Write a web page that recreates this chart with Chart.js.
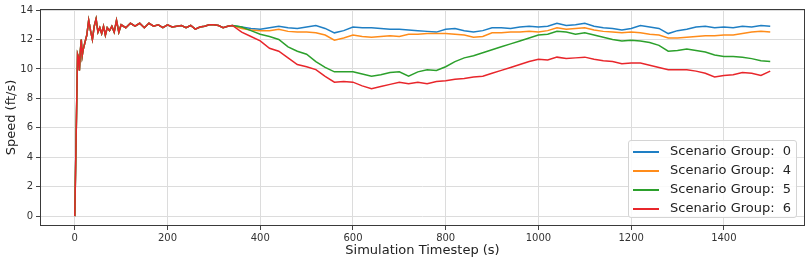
<!DOCTYPE html>
<html lang="en">
<head>
  <meta charset="UTF-8" />
  <title>Speed by scenario group</title>
  <script src="https://cdn.jsdelivr.net/npm/chart.js"></script>
  <style>
    body {
      margin: 0;
      background: #ffffff;
      font-family: "DejaVu Sans", sans-serif;
    }
    .wrap {
      position: relative;
      width: 809px;
      height: 263px;
    }
    #legend {
      position: absolute;
      left: 628px;
      top: 140px;
      width: 167px;
      height: 76px;
      background: rgba(255, 255, 255, 0.85);
      border: 1px solid #d4d4d4;
      border-radius: 3px;
      font-size: 13px;
      color: #222;
    }
    .row {
      position: absolute;
      left: 4px;
      height: 18px;
      line-height: 18px;
      white-space: pre;
    }
    .swatch {
      display: inline-block;
      width: 26px;
      height: 2px;
      vertical-align: middle;
      margin-right: 11px;
    }
  </style>
</head>
<body>
<div class="wrap">
  <canvas id="chart" width="809" height="263"></canvas>
  <div id="legend"></div>
</div>

<script>
  // Data
  const groups = ['0', '4', '5', '6'];
  const colors = ['#1f7fc4', '#ff8c1a', '#2ca02c', '#e8262b'];

  // shared part: all groups run together up to ~340 s
  const warmupSteps = [0, 3, 6, 8, 10, 12, 14, 16, 18, 22, 26, 30, 34, 38, 42, 46, 50, 54, 58, 62,
    66, 70, 75, 80, 85, 90, 95, 100, 110, 120, 130, 140, 150, 160, 170, 180, 190, 200, 210, 220,
    230, 240, 250, 260, 270, 280, 290, 300, 310, 320, 330, 340];
  const warmupSpeed = [0, 5.5, 11.0, 10.8, 9.9, 11.2, 12.0, 10.9, 11.3, 11.8, 12.3, 13.3, 12.6, 12.0,
    12.9, 13.4, 12.5, 12.8, 12.4, 12.9, 12.3, 12.8, 12.6, 12.9, 12.5, 13.3, 12.5, 13.0, 12.8, 13.1,
    12.9, 13.1, 12.8, 13.1, 12.9, 13.0, 12.8, 13.0, 12.85, 12.9, 12.95, 12.8, 12.95, 12.7, 12.85,
    12.9, 13.0, 13.0, 12.95, 12.8, 12.9, 12.95];

  const steps = [360, 380, 400, 420, 440, 460, 480, 500, 520, 540, 560, 580, 600, 620, 640, 660,
    680, 700, 720, 740, 760, 780, 800, 820, 840, 860, 880, 900, 920, 940, 960, 980, 1000, 1020,
    1040, 1060, 1080, 1100, 1120, 1140, 1160, 1180, 1200, 1220, 1240, 1260, 1280, 1300, 1320,
    1340, 1360, 1380, 1400, 1420, 1440, 1460, 1480, 1500];

  const speed0 = [12.85, 12.75, 12.7, 12.8, 12.9, 12.8, 12.75, 12.85,
    12.95, 12.75, 12.45, 12.6, 12.85, 12.8, 12.8, 12.75, 12.7, 12.7, 12.65, 12.6, 12.55, 12.5,
    12.7, 12.75, 12.6, 12.5, 12.6, 12.8, 12.8, 12.75, 12.85, 12.9, 12.85,
    12.9, 13.1, 12.95, 13.0, 13.1, 12.9, 12.8, 12.75, 12.65, 12.75, 12.95, 12.85, 12.75, 12.4,
    12.6, 12.7, 12.85, 12.9, 12.8, 12.85, 12.8, 12.9, 12.85, 12.95, 12.9];
  const speed4 = [12.75, 12.65, 12.6, 12.6, 12.7, 12.55, 12.5, 12.5,
    12.45, 12.3, 11.95, 12.1, 12.3, 12.2, 12.15, 12.2, 12.25, 12.2, 12.35, 12.35, 12.4, 12.4,
    12.4, 12.35, 12.3, 12.15, 12.2, 12.45, 12.45, 12.5, 12.5, 12.55, 12.5,
    12.6, 12.8, 12.7, 12.75, 12.8, 12.65, 12.55, 12.5, 12.45, 12.5, 12.45, 12.35, 12.3, 12.1,
    12.1, 12.15, 12.2, 12.25, 12.25, 12.3, 12.3, 12.4, 12.5, 12.55, 12.5];
  const speed5 = [12.85, 12.6, 12.35, 12.2, 12.0, 11.5, 11.2, 11.0,
    10.5, 10.1, 9.8, 9.8, 9.8, 9.65, 9.5, 9.6, 9.75, 9.8, 9.5, 9.8, 9.95, 9.9,
    10.15, 10.5, 10.75, 10.9, 11.1, 11.3, 11.5, 11.7, 11.9, 12.1, 12.3,
    12.35, 12.55, 12.5, 12.35, 12.45, 12.3, 12.15, 12.0, 11.9, 11.95, 11.9, 11.8, 11.6, 11.2,
    11.25, 11.35, 11.25, 11.15, 10.95, 10.85, 10.85, 10.8, 10.7, 10.55, 10.5];
  const speed6 = [12.5, 12.2, 11.9, 11.4, 11.2, 10.75, 10.3, 10.15,
    9.95, 9.5, 9.1, 9.15, 9.1, 8.85, 8.65, 8.8, 8.95, 9.1, 9.0, 9.1, 9.0, 9.15,
    9.2, 9.3, 9.35, 9.45, 9.5, 9.7, 9.9, 10.1, 10.3, 10.5, 10.65,
    10.6, 10.8, 10.7, 10.75, 10.8, 10.65, 10.55, 10.5, 10.35, 10.4, 10.4, 10.25, 10.1, 9.95,
    9.95, 9.95, 9.85, 9.7, 9.45, 9.55, 9.6, 9.75, 9.7, 9.55, 9.85];

  const xTicks = [0, 200, 400, 600, 800, 1000, 1200, 1400];
  const yTicks = [0, 2, 4, 6, 8, 10, 12, 14];

  const seriesValues = [speed0, speed4, speed5, speed6];

  function buildPoints(values) {
    const pts = warmupSteps.map((t, i) => ({ x: t, y: warmupSpeed[i] }));
    steps.forEach((t, i) => pts.push({ x: t, y: values[i] }));
    return pts;
  }

  const datasets = groups.map((g, i) => ({
    label: 'Scenario Group:  ' + g,
    data: buildPoints(seriesValues[i]),
    borderColor: colors[i],
    borderWidth: 1.5,
    pointRadius: 0,
    tension: 0,
    fill: false,
    order: groups.length - i   // last group drawn on top, like matplotlib
  }));

  // cadre type matplotlib (4 côtés)
  const framePlugin = {
    id: 'frame',
    afterDatasetsDraw(chart) {
      const a = chart.chartArea;
      const ctx = chart.ctx;
      ctx.save();
      ctx.strokeStyle = '#3a3a3a';
      ctx.lineWidth = 1;
      ctx.strokeRect(a.left + 0.5, a.top + 0.5, a.right - a.left - 1, a.bottom - a.top - 1);
      ctx.restore();
    }
  };

  Chart.defaults.font.family = '"DejaVu Sans", sans-serif';
  Chart.defaults.color = '#333';

  new Chart(document.getElementById('chart'), {
    type: 'line',
    data: { datasets: datasets },
    options: {
      responsive: false,
      animation: false,
      layout: { padding: { left: 0, right: 4, top: 6, bottom: 0 } },
      plugins: {
        legend: { display: false },
        tooltip: { enabled: false }
      },
      scales: {
        x: {
          type: 'linear',
          min: -75,
          max: 1575,
          afterBuildTicks: s => { s.ticks = xTicks.map(v => ({ value: v })); },
          afterFit: s => { s.height = 37; },
          grid: { color: '#dcdcdc', tickColor: '#444', tickLength: 4 },
          border: { display: false },
          ticks: { font: { size: 10 }, padding: 2, maxRotation: 0, callback: v => String(v) },
          title: {
            display: true,
            text: 'Simulation Timestep (s)',
            font: { size: 13 },
            color: '#222',
            padding: { top: 0, bottom: 5 }
          }
        },
        y: {
          min: -0.67,
          max: 14.07,
          afterBuildTicks: s => { s.ticks = yTicks.map(v => ({ value: v })); },
          afterFit: s => { s.width = 40; },
          grid: { color: '#dcdcdc', tickColor: '#444', tickLength: 4 },
          border: { display: false },
          ticks: { font: { size: 10 }, padding: 3, callback: v => String(v) },
          title: {
            display: true,
            text: 'Speed (ft/s)',
            font: { size: 13 },
            color: '#222',
            padding: { top: 4, bottom: 0 }
          }
        }
      }
    },
    plugins: [framePlugin]
  });

  // légende dans le coin bas-droit
  const legend = document.getElementById('legend');
  datasets.forEach((d, i) => {
    const row = document.createElement('div');
    row.className = 'row';
    row.style.top = (1 + i * 19) + 'px';
    row.innerHTML = '<span class="swatch" style="background:' + d.borderColor + '"></span>' + d.label;
    legend.appendChild(row);
  });
</script>
</body>
</html>
